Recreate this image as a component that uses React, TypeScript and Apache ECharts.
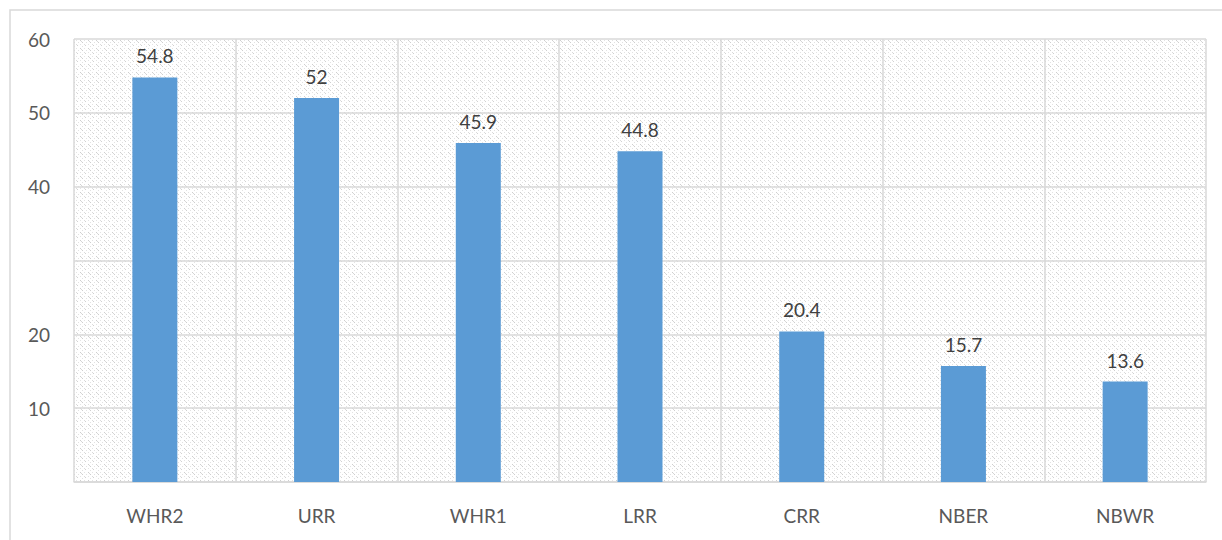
import React, { useEffect, useRef } from "react";
import * as echarts from "echarts";

const categories = ["WHR2", "URR", "WHR1", "LRR", "CRR", "NBER", "NBWR"];
const values = [54.8, 52, 45.9, 44.8, 20.4, 15.7, 13.6];
const yTickValues = [0, 10, 20, 30, 40, 50, 60];
const yTickLabels = ["", "10", "20", "", "40", "50", "60"];

const tileSvg =
  "<svg xmlns='http://www.w3.org/2000/svg' width='8' height='8'>" +
  "<rect width='8' height='8' fill='#ffffff'/>" +
  "<rect x='0' y='0' width='1' height='1' fill='#cfcfcf'/>" +
  "<rect x='1' y='1' width='1' height='1' fill='#d8d8d8'/>" +
  "<rect x='2' y='2' width='1' height='1' fill='#cfcfcf'/>" +
  "<rect x='4' y='4' width='1' height='1' fill='#dcdcdc'/>" +
  "<rect x='5' y='5' width='1' height='1' fill='#d2d2d2'/>" +
  "<rect x='4' y='0' width='1' height='1' fill='#e4e4e4'/>" +
  "<rect x='0' y='4' width='1' height='1' fill='#e4e4e4'/>" +
  "<rect x='6' y='2' width='1' height='1' fill='#e2e2e2'/>" +
  "<rect x='2' y='6' width='1' height='1' fill='#e2e2e2'/>" +
  "</svg>";
const tileUrl = "data:image/svg+xml;charset=utf-8," + encodeURIComponent(tileSvg);

export default function App() {
  const ref = useRef<HTMLDivElement>(null);
  useEffect(() => {
    if (!ref.current) return;
    const chart = echarts.init(ref.current, undefined, { renderer: "svg" });
    const font = "Lato, 'Open Sans', 'Liberation Sans', sans-serif";
    chart.setOption({
      animation: false,
      backgroundColor: "#ffffff",
      textStyle: { fontFamily: font },
      graphic: [
        {
          type: "rect",
          shape: { x: 10, y: 10, width: 1230, height: 550 },
          style: { fill: "none", stroke: "#d9d9d9", lineWidth: 1.5 },
          silent: true,
          z: -10,
        },
      ],
      grid: {
        left: 74,
        top: 39,
        right: 16,
        bottom: 58,
        show: true,
        borderWidth: 0,
        backgroundColor: { image: tileUrl, repeat: "repeat" },
      },
      xAxis: {
        type: "category",
        data: categories,
        axisLine: { show: true, lineStyle: { color: "#d9d9d9", width: 1.5 } },
        axisTick: { show: false },
        splitLine: { show: true, lineStyle: { color: "#d9d9d9", width: 1.5 } },
        axisLabel: { color: "#595959", fontSize: 19, margin: 24, fontFamily: font },
      },
      yAxis: {
        type: "value",
        min: 0,
        max: 60,
        interval: 10,
        axisLine: { show: false },
        axisTick: { show: false },
        splitLine: { show: true, lineStyle: { color: "#d9d9d9", width: 1.5 } },
        axisLabel: {
          color: "#595959",
          fontSize: 19,
          margin: 24,
          fontFamily: font,
          formatter: (v: number) => {
            const i = yTickValues.indexOf(v);
            return i >= 0 ? yTickLabels[i] : "";
          },
        },
      },
      series: [
        {
          type: "bar",
          data: values,
          barWidth: 45,
          itemStyle: { color: "#5b9bd5" },
          label: {
            show: true,
            position: "top",
            distance: 12,
            color: "#404040",
            fontSize: 19,
            fontFamily: font,
          },
        },
      ],
    });
    return () => chart.dispose();
  }, []);
  return <div ref={ref} style={{ width: 1222, height: 540, position: "absolute", left: 0, top: 0 }} />;
}
